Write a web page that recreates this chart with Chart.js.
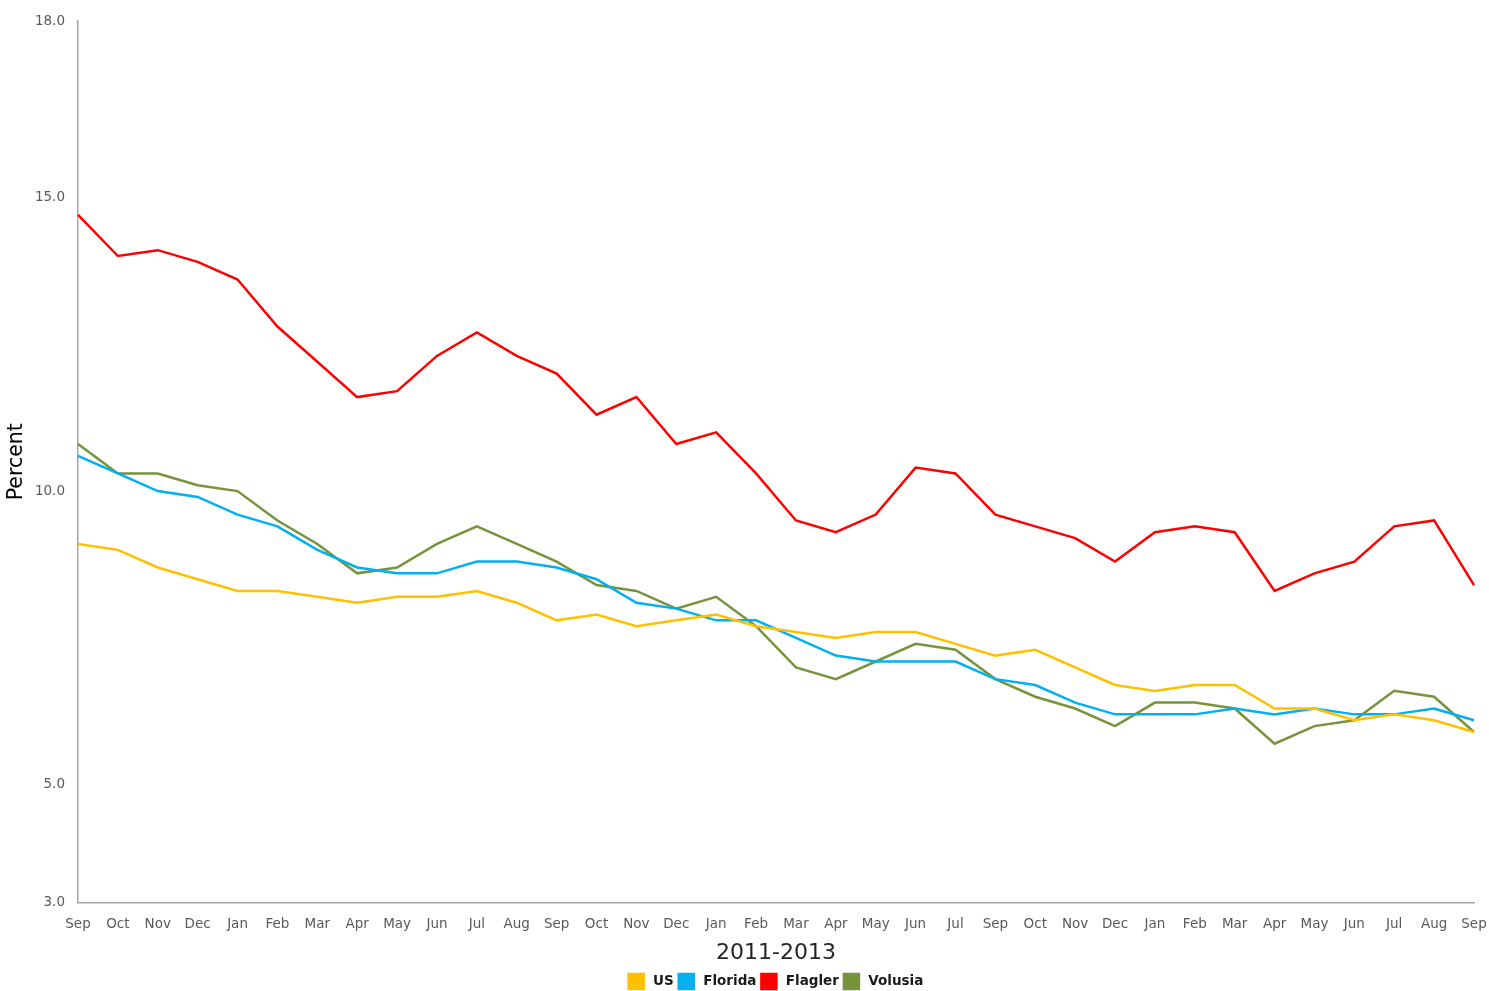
<!DOCTYPE html>
<html>
<head>
<meta charset="utf-8">
<script src="https://cdn.jsdelivr.net/npm/chart.js@4"></script>
<style>
  html, body { margin: 0; padding: 0; background: #fff; }
  #wrap { width: 1489px; height: 991px; }
</style>
</head>
<body>
<div id="wrap"><canvas id="rateChart"></canvas></div>
<script>
// months Sep 2011 - Sep 2013 (Aug 2012 missing in source)
const months = ["Sep", "Oct", "Nov", "Dec", "Jan", "Feb", "Mar", "Apr", "May", "Jun", "Jul", "Aug",
  "Sep", "Oct", "Nov", "Dec", "Jan", "Feb", "Mar", "Apr", "May", "Jun", "Jul",
  "Sep", "Oct", "Nov", "Dec", "Jan", "Feb", "Mar", "Apr", "May", "Jun", "Jul", "Aug", "Sep"];

const usRate = [9.1, 9.0, 8.7, 8.5, 8.3, 8.3, 8.2, 8.1, 8.2, 8.2, 8.3, 8.1,
  7.8, 7.9, 7.7, 7.8, 7.9, 7.7, 7.6, 7.5, 7.6, 7.6, 7.4,
  7.2, 7.3, 7.0, 6.7, 6.6, 6.7, 6.7, 6.3, 6.3, 6.1, 6.2, 6.1, 5.9];

const floridaRate = [10.6, 10.3, 10.0, 9.9, 9.6, 9.4, 9.0, 8.7, 8.6, 8.6, 8.8, 8.8,
  8.7, 8.5, 8.1, 8.0, 7.8, 7.8, 7.5, 7.2, 7.1, 7.1, 7.1,
  6.8, 6.7, 6.4, 6.2, 6.2, 6.2, 6.3, 6.2, 6.3, 6.2, 6.2, 6.3, 6.1];

const flaglerRate = [14.7, 14.0, 14.1, 13.9, 13.6, 12.8, 12.2, 11.6, 11.7, 12.3, 12.7, 12.3,
  12.0, 11.3, 11.6, 10.8, 11.0, 10.3, 9.5, 9.3, 9.6, 10.4, 10.3,
  9.6, 9.4, 9.2, 8.8, 9.3, 9.4, 9.3, 8.3, 8.6, 8.8, 9.4, 9.5, 8.4];

const volusiaRate = [10.8, 10.3, 10.3, 10.1, 10.0, 9.5, 9.1, 8.6, 8.7, 9.1, 9.4, 9.1,
  8.8, 8.4, 8.3, 8.0, 8.2, 7.7, 7.0, 6.8, 7.1, 7.4, 7.3,
  6.8, 6.5, 6.3, 6.0, 6.4, 6.4, 6.3, 5.7, 6.0, 6.1, 6.6, 6.5, 5.9];

const yTicks = [3, 5, 10, 15, 18];

const font = "'DejaVu Sans', Verdana, sans-serif";

function line(label, data, color) {
  return {
    label: label,
    data: data,
    borderColor: color,
    backgroundColor: color,
    borderWidth: 2.5,
    pointRadius: 0,
    pointHoverRadius: 0,
    tension: 0,
    fill: false,
  };
}

// center the legend under the plot area instead of the whole canvas
const legendUnderPlot = {
  id: "legendUnderPlot",
  afterLayout(chart) {
    if (chart.legend) {
      chart.legend.left = chart.chartArea.left;
      chart.legend.right = chart.chartArea.right;
    }
  },
};

const ctx = document.getElementById("rateChart").getContext("2d");

const chart = new Chart(ctx, {
  type: "line",
  data: {
    labels: months,
    datasets: [
      line("US", usRate, "#FFC000"),
      line("Florida", floridaRate, "#00B0F0"),
      line("Flagler", flaglerRate, "#FF0000"),
      line("Volusia", volusiaRate, "#77933C"),
    ],
  },
  plugins: [legendUnderPlot],
  options: {
    responsive: true,
    maintainAspectRatio: false,
    animation: false,
    layout: {
      padding: { top: 21, right: 0, bottom: -8, left: 0 },
    },
    plugins: {
      legend: {
        position: "bottom",
        labels: {
          boxWidth: 15,
          boxHeight: 15,
          padding: 5,
          color: "#1a1a1a",
          font: { family: font, size: 13.5, weight: "bold" },
          generateLabels: (c) =>
            Chart.defaults.plugins.legend.labels.generateLabels(c).map((item) => {
              item.text = "\u2009" + item.text;
              return item;
            }),
        },
      },
      tooltip: { enabled: false },
    },
    scales: {
      x: {
        offset: false,
        grid: { display: false },
        border: { color: "#a6a6a6", width: 1.5 },
        afterFit: (axis) => {
          axis.paddingRight = 15;
        },
        ticks: {
          autoSkip: false,
          maxRotation: 0,
          padding: 6,
          color: "#595959",
          font: { family: font, size: 13.5 },
        },
        title: {
          display: true,
          text: "2011-2013",
          color: "#262626",
          font: { family: font, size: 22 },
          padding: { top: 1, bottom: 3 },
        },
      },
      y: {
        min: 3,
        max: 18,
        grid: { display: false },
        border: { color: "#a6a6a6", width: 1.5 },
        afterBuildTicks: (axis) => {
          axis.ticks = yTicks.map((v) => ({ value: v }));
        },
        afterFit: (axis) => {
          axis.width = 78;
        },
        ticks: {
          padding: 5,
          color: "#595959",
          font: { family: font, size: 13.5 },
          callback: (v) => Number(v).toFixed(1),
        },
        title: {
          display: true,
          text: "Percent",
          color: "#000",
          font: { family: font, size: 20.5 },
          padding: { top: 4, bottom: 0 },
        },
      },
    },
  },
});
</script>
</body>
</html>
